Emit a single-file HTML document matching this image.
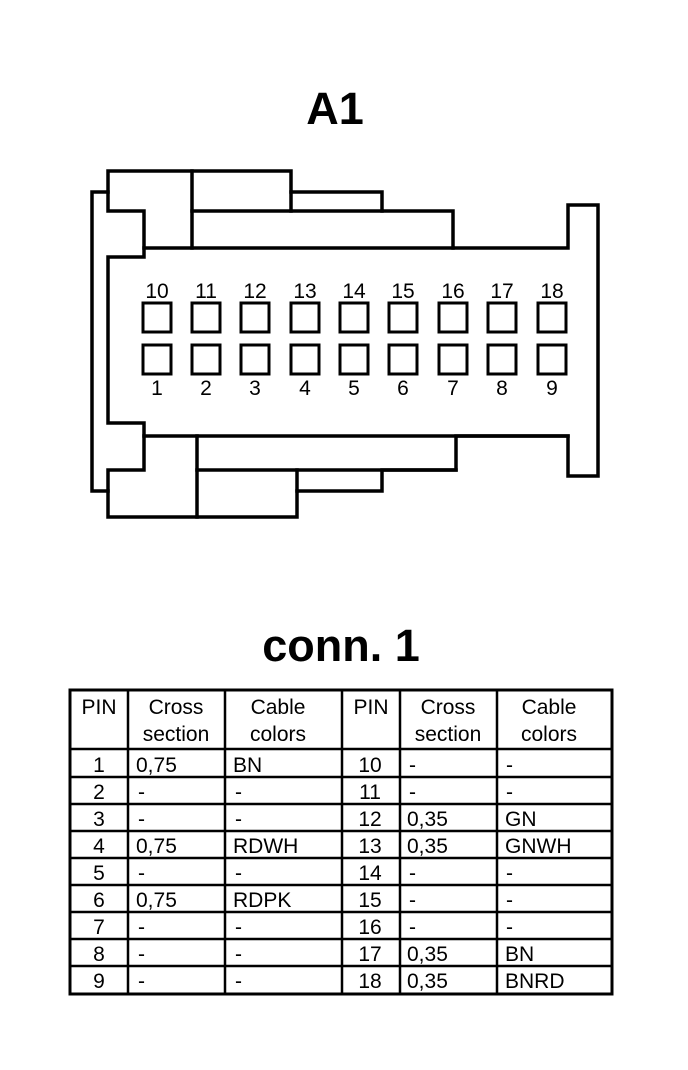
<!DOCTYPE html>
<html><head><style>
html,body{margin:0;padding:0;background:#fff;}
svg{display:block;}
text{font-family:"Liberation Sans",Arial,sans-serif;fill:#000;}
</style></head><body>
<svg width="688" height="1070" viewBox="0 0 688 1070" xmlns="http://www.w3.org/2000/svg">
<text x="335" y="124" font-size="45" font-weight="bold" text-anchor="middle">A1</text>
<g fill="none" stroke="#000" stroke-width="3.5" stroke-linejoin="miter" stroke-linecap="square">
<polyline points="108,192 92,192 92,491 108,491"/>
<polygon points="108,171 291,171 291,192 382,192 382,211 453,211 453,248 568,248 568,205 598,205 598,476 568,476 568,436 456,436 456,470 382,470 382,491 297,491 297,517 108,517 108,470 144,470 144,423 108,423 108,257 144,257 144,211 108,211"/>
<line x1="144" y1="248" x2="453" y2="248"/>
<line x1="192" y1="171" x2="192" y2="248"/>
<line x1="192" y1="211" x2="382" y2="211"/>
<line x1="291" y1="192" x2="291" y2="211"/>
<line x1="144" y1="436" x2="568" y2="436"/>
<line x1="197" y1="436" x2="197" y2="517"/>
<line x1="197" y1="470" x2="456" y2="470"/>
<line x1="297" y1="470" x2="297" y2="491"/>
</g>
<g fill="none" stroke="#000" stroke-width="3">
<rect x="143" y="303" width="28" height="29"/><rect x="192" y="303" width="28" height="29"/><rect x="241" y="303" width="28" height="29"/><rect x="291" y="303" width="28" height="29"/><rect x="340" y="303" width="28" height="29"/><rect x="389" y="303" width="28" height="29"/><rect x="439" y="303" width="28" height="29"/><rect x="488" y="303" width="28" height="29"/><rect x="538" y="303" width="28" height="29"/>
<rect x="143" y="345" width="28" height="29"/><rect x="192" y="345" width="28" height="29"/><rect x="241" y="345" width="28" height="29"/><rect x="291" y="345" width="28" height="29"/><rect x="340" y="345" width="28" height="29"/><rect x="389" y="345" width="28" height="29"/><rect x="439" y="345" width="28" height="29"/><rect x="488" y="345" width="28" height="29"/><rect x="538" y="345" width="28" height="29"/>
</g>
<g font-size="21" text-anchor="middle">
<text x="157" y="298">10</text><text x="206" y="298">11</text><text x="255" y="298">12</text><text x="305" y="298">13</text><text x="354" y="298">14</text><text x="403" y="298">15</text><text x="453" y="298">16</text><text x="502" y="298">17</text><text x="552" y="298">18</text>
<text x="157" y="395">1</text><text x="206" y="395">2</text><text x="255" y="395">3</text><text x="305" y="395">4</text><text x="354" y="395">5</text><text x="403" y="395">6</text><text x="453" y="395">7</text><text x="502" y="395">8</text><text x="552" y="395">9</text>
</g>
<text x="341" y="661" font-size="45" font-weight="bold" text-anchor="middle">conn. 1</text>
<g stroke="#000" fill="none">
<rect x="70" y="690" width="542" height="304" stroke-width="3"/>
<g stroke-width="2.5">
<line x1="128" y1="690" x2="128" y2="994"/><line x1="225" y1="690" x2="225" y2="994"/><line x1="342" y1="690" x2="342" y2="994"/><line x1="400" y1="690" x2="400" y2="994"/><line x1="497" y1="690" x2="497" y2="994"/>
<line x1="70" y1="749" x2="612" y2="749"/><line x1="70" y1="777" x2="612" y2="777"/><line x1="70" y1="804" x2="612" y2="804"/><line x1="70" y1="831" x2="612" y2="831"/><line x1="70" y1="858" x2="612" y2="858"/><line x1="70" y1="885" x2="612" y2="885"/><line x1="70" y1="912" x2="612" y2="912"/><line x1="70" y1="939" x2="612" y2="939"/><line x1="70" y1="966" x2="612" y2="966"/>
</g></g>
<g font-size="21">
<text x="99" y="714" text-anchor="middle">PIN</text>
<text x="176" y="714" text-anchor="middle">Cross</text><text x="176" y="741" text-anchor="middle">section</text>
<text x="278" y="714" text-anchor="middle">Cable</text><text x="278" y="741" text-anchor="middle">colors</text>
<text x="371" y="714" text-anchor="middle">PIN</text>
<text x="448" y="714" text-anchor="middle">Cross</text><text x="448" y="741" text-anchor="middle">section</text>
<text x="549" y="714" text-anchor="middle">Cable</text><text x="549" y="741" text-anchor="middle">colors</text>
</g>
<g font-size="21">
<g text-anchor="middle">
<text x="99" y="772">1</text><text x="99" y="799">2</text><text x="99" y="826">3</text><text x="99" y="853">4</text><text x="99" y="880">5</text><text x="99" y="907">6</text><text x="99" y="934">7</text><text x="99" y="961">8</text><text x="99" y="988">9</text>
<text x="370" y="772">10</text><text x="370" y="799">11</text><text x="370" y="826">12</text><text x="370" y="853">13</text><text x="370" y="880">14</text><text x="370" y="907">15</text><text x="370" y="934">16</text><text x="370" y="961">17</text><text x="370" y="988">18</text>
</g>
<text x="136" y="772">0,75</text><text x="138" y="799">-</text><text x="138" y="826">-</text><text x="136" y="853">0,75</text><text x="138" y="880">-</text><text x="136" y="907">0,75</text><text x="138" y="934">-</text><text x="138" y="961">-</text><text x="138" y="988">-</text>
<text x="233" y="772">BN</text><text x="235" y="799">-</text><text x="235" y="826">-</text><text x="233" y="853">RDWH</text><text x="235" y="880">-</text><text x="233" y="907">RDPK</text><text x="235" y="934">-</text><text x="235" y="961">-</text><text x="235" y="988">-</text>
<text x="409" y="772">-</text><text x="409" y="799">-</text><text x="407" y="826">0,35</text><text x="407" y="853">0,35</text><text x="409" y="880">-</text><text x="409" y="907">-</text><text x="409" y="934">-</text><text x="407" y="961">0,35</text><text x="407" y="988">0,35</text>
<text x="506" y="772">-</text><text x="506" y="799">-</text><text x="505" y="826">GN</text><text x="505" y="853">GNWH</text><text x="506" y="880">-</text><text x="506" y="907">-</text><text x="506" y="934">-</text><text x="505" y="961">BN</text><text x="505" y="988">BNRD</text>
</g>
</svg>
</body></html>
